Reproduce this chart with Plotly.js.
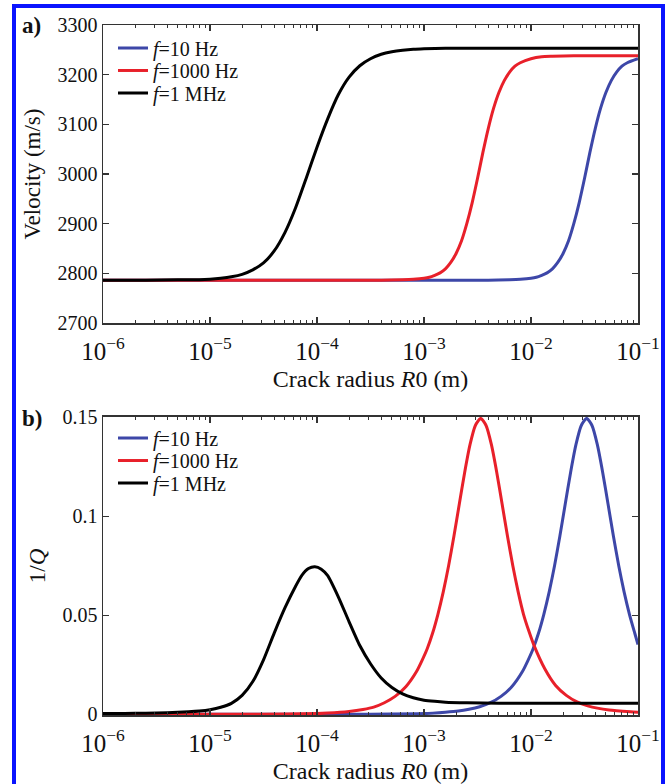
<!DOCTYPE html>
<html>
<head>
<meta charset="utf-8">
<script src="https://cdn.plot.ly/plotly-3.0.1.min.js"></script>
<style>
  html, body { margin:0; padding:0; background:#ffffff; }
  #wrap { position:relative; width:670px; height:784px; overflow:hidden; background:#ffffff; }
  #chart { position:absolute; left:0; top:0; width:670px; height:784px; }
  #frame { position:absolute; left:12px; top:4px; width:653px; height:820px; box-sizing:border-box;
           border:4px solid #0a14ff; pointer-events:none; }
</style>
</head>
<body>
<div id="wrap">
  <div id="chart"></div>
  <div id="frame"></div>
</div>
<script>
// ---------------- DATA (x values are log10 of crack radius R0 in m) ----------------
const seriesNames = ['<i>f</i>=10 Hz', '<i>f</i>=1000 Hz', '<i>f</i>=1 MHz'];
const seriesColors = ['#3d47a8', '#e8202a', '#000000'];

// Panel a: velocity (m/s)
const velLogR_10Hz = [-6, -3, -2.4, -2.2, -2.1, -2.0, -1.95, -1.9, -1.85, -1.8, -1.75, -1.7, -1.65, -1.6, -1.55, -1.5, -1.45, -1.4, -1.35, -1.3, -1.25, -1.2, -1.15, -1.1, -1.0];
const vel_10Hz     = [2786, 2786, 2786, 2787, 2788, 2790, 2792, 2796, 2801, 2809, 2822, 2840, 2865, 2900, 2942, 2991, 3043, 3091, 3132, 3164, 3188, 3205, 3217, 3224, 3232];

const velLogR_1000Hz = [-6, -4, -3.4, -3.2, -3.1, -3.0, -2.95, -2.9, -2.85, -2.8, -2.75, -2.7, -2.65, -2.6, -2.55, -2.5, -2.45, -2.4, -2.35, -2.3, -2.25, -2.2, -2.15, -2.1, -2.0, -1.9, -1.8, -1.6, -1.3, -1.0];
const vel_1000Hz     = [2786, 2786, 2786, 2787, 2788, 2790, 2792, 2796, 2801, 2809, 2822, 2840, 2865, 2900, 2942, 2991, 3043, 3091, 3132, 3164, 3188, 3205, 3217, 3224, 3232, 3236, 3237, 3238, 3238, 3238];

const velLogR_1MHz = [-6, -5.6, -5.3, -5.1, -5.0, -4.9, -4.8, -4.7, -4.6, -4.5, -4.4, -4.3, -4.2, -4.1, -4.0, -3.9, -3.8, -3.7, -3.6, -3.5, -3.4, -3.3, -3.2, -3.1, -3.0, -2.8, -2.5, -2.0, -1.0];
const vel_1MHz     = [2786, 2786, 2787, 2787, 2788, 2790, 2793, 2798, 2807, 2821, 2845, 2882, 2932, 2992, 3054, 3111, 3160, 3195, 3218, 3232, 3241, 3246, 3249, 3251, 3252, 3253, 3253, 3253, 3253];

// Panel b: attenuation 1/Q
const qLogR_10Hz = [-6, -3.5, -3.0, -2.8, -2.68, -2.58, -2.48, -2.38, -2.28, -2.18, -2.08, -2.03, -1.98, -1.93, -1.88, -1.83, -1.78, -1.73, -1.68, -1.63, -1.58, -1.53, -1.48, -1.43, -1.38, -1.33, -1.28, -1.23, -1.18, -1.13, -1.08, -1.03, -1.0];
const q_10Hz     = [0, 0.00003, 0.0003, 0.0010, 0.0016, 0.0025, 0.0038, 0.0058, 0.0090, 0.0139, 0.0216, 0.0270, 0.0331, 0.0409, 0.0505, 0.0618, 0.0750, 0.0901, 0.1062, 0.1222, 0.1362, 0.1459, 0.1495, 0.1459, 0.1362, 0.1222, 0.1062, 0.0901, 0.0750, 0.0618, 0.0505, 0.0409, 0.0352];

const qLogR_1000Hz = [-6, -4.5, -4.0, -3.9, -3.7, -3.57, -3.47, -3.37, -3.27, -3.17, -3.07, -3.02, -2.97, -2.92, -2.87, -2.82, -2.77, -2.72, -2.67, -2.62, -2.57, -2.52, -2.47, -2.42, -2.37, -2.32, -2.27, -2.22, -2.17, -2.12, -2.07, -2.02, -1.97, -1.87, -1.77, -1.67, -1.57, -1.47, -1.27, -1.07, -1.0];
const q_1000Hz     = [0, 0.00002, 0.0003, 0.00055, 0.0014, 0.0024, 0.0036, 0.0058, 0.0090, 0.0139, 0.0216, 0.0270, 0.0331, 0.0409, 0.0505, 0.0618, 0.0750, 0.0901, 0.1062, 0.1222, 0.1362, 0.1459, 0.1495, 0.1459, 0.1362, 0.1222, 0.1062, 0.0901, 0.0750, 0.0618, 0.0505, 0.0420, 0.0345, 0.0228, 0.0145, 0.0095, 0.0062, 0.0042, 0.0021, 0.0012, 0.0010];

const qLogR_1MHz = [-6, -5.8, -5.6, -5.4, -5.2, -5.1, -5.0, -4.9, -4.8, -4.7, -4.6, -4.5, -4.4, -4.3, -4.2, -4.14, -4.08, -4.02, -3.96, -3.9, -3.8, -3.7, -3.6, -3.5, -3.4, -3.3, -3.2, -3.1, -3.0, -2.9, -2.8, -2.6, -2.3, -2.0, -1.0];
const q_1MHz     = [0.0003, 0.0004, 0.0005, 0.0007, 0.0012, 0.0016, 0.0023, 0.0035, 0.0055, 0.0095, 0.0165, 0.0275, 0.0410, 0.0537, 0.0647, 0.0703, 0.0736, 0.0745, 0.0733, 0.0700, 0.0592, 0.0467, 0.0347, 0.0255, 0.0183, 0.0135, 0.0103, 0.0083, 0.0071, 0.0065, 0.0061, 0.0058, 0.0056, 0.0055, 0.0055];

// Legend entry vertical centres (paper units) for the two panels
const legendYa = [0.9667, 0.9341, 0.9014];
const legendYb = [0.4014, 0.3688, 0.3362];

// ---------------- BUILD ----------------
const toR = arr => arr.map(v => Math.pow(10, v));
const velSets = [[velLogR_10Hz, vel_10Hz], [velLogR_1000Hz, vel_1000Hz], [velLogR_1MHz, vel_1MHz]];
const qSets = [[qLogR_10Hz, q_10Hz], [qLogR_1000Hz, q_1000Hz], [qLogR_1MHz, q_1MHz]];

const traces = [];
const legends = {};
function legendAt(y) {
  return {x:0.0187, y:y, xanchor:'left', yanchor:'middle', bgcolor:'rgba(0,0,0,0)',
    borderwidth:0, font:{size:20, color:'#111'}, itemwidth:30};
}
velSets.forEach((s, i) => {
  const key = 'legend' + (i === 0 ? '' : (i + 1));
  legends[key] = legendAt(legendYa[i]);
  traces.push({x: toR(s[0]), y: s[1], xaxis:'x', yaxis:'y', mode:'lines', name: seriesNames[i],
    legend: key, line:{color: seriesColors[i], width:3, shape:'spline', smoothing:0.6}});
});
qSets.forEach((s, i) => {
  const key = 'legend' + (i + 4);
  legends[key] = legendAt(legendYb[i]);
  traces.push({x: toR(s[0]), y: s[1], xaxis:'x2', yaxis:'y2', mode:'lines', name: seriesNames[i],
    legend: key, line:{color: seriesColors[i], width:3, shape:'spline', smoothing:0.6}});
});

const axisCol = '#333333';
function xAxis(anchor) {
  return {type:'log', range:[-6,-1], dtick:1, exponentformat:'power', anchor: anchor,
    ticks:'inside', ticklen:6, tickwidth:1.3, tickcolor:axisCol,
    minor:{ticks:'inside', ticklen:3, tickwidth:1, tickcolor:axisCol, dtick:'D1', showgrid:false},
    showline:true, linecolor:axisCol, linewidth:1.5, mirror:'ticks',
    showgrid:false, zeroline:false, tickfont:{size:20, color:'#111'},
    ticklabelstandoff: 6,
    title:{text:'Crack radius <i>R</i>0 (m)', font:{size:24, color:'#111'}, standoff:6}};
}
function yAxis(anchor, domain, range, dtick, title) {
  return {anchor: anchor, domain: domain, range: range, dtick: dtick,
    ticks:'inside', ticklen:6, tickwidth:1.3, tickcolor:axisCol,
    showline:true, linecolor:axisCol, linewidth:1.5, mirror:'ticks',
    showgrid:false, zeroline:false, tickfont:{size:20, color:'#111'},
    title:{text: title, font:{size:23, color:'#111'}, standoff:10}};
}

const layout = Object.assign({
  width:670, height:784,
  margin:{l:103, r:32, t:25, b:69},
  paper_bgcolor:'rgba(0,0,0,0)', plot_bgcolor:'#ffffff',
  font:{family:'"Liberation Serif", "Times New Roman", serif', color:'#111'},
  showlegend:true,
  xaxis: xAxis('y'),
  yaxis: yAxis('x', [0.5681, 1], [2700, 3300], 100, 'Velocity (m/s)'),
  xaxis2: xAxis('y2'),
  yaxis2: yAxis('x2', [0, 0.4319], [-0.0004, 0.1502], 0.05, '1/<i>Q</i>'),
  annotations:[
    {text:'<b>a)</b>', xref:'paper', yref:'paper', x:-0.133, y:1.0, xanchor:'center', yanchor:'middle',
      showarrow:false, font:{size:23, color:'#111'}},
    {text:'<b>b)</b>', xref:'paper', yref:'paper', x:-0.133, y:0.4304, xanchor:'center', yanchor:'middle',
      showarrow:false, font:{size:23, color:'#111'}}
  ]
}, legends);

Plotly.newPlot('chart', traces, layout, {displayModeBar:false, staticPlot:true});
</script>
</body>
</html>
